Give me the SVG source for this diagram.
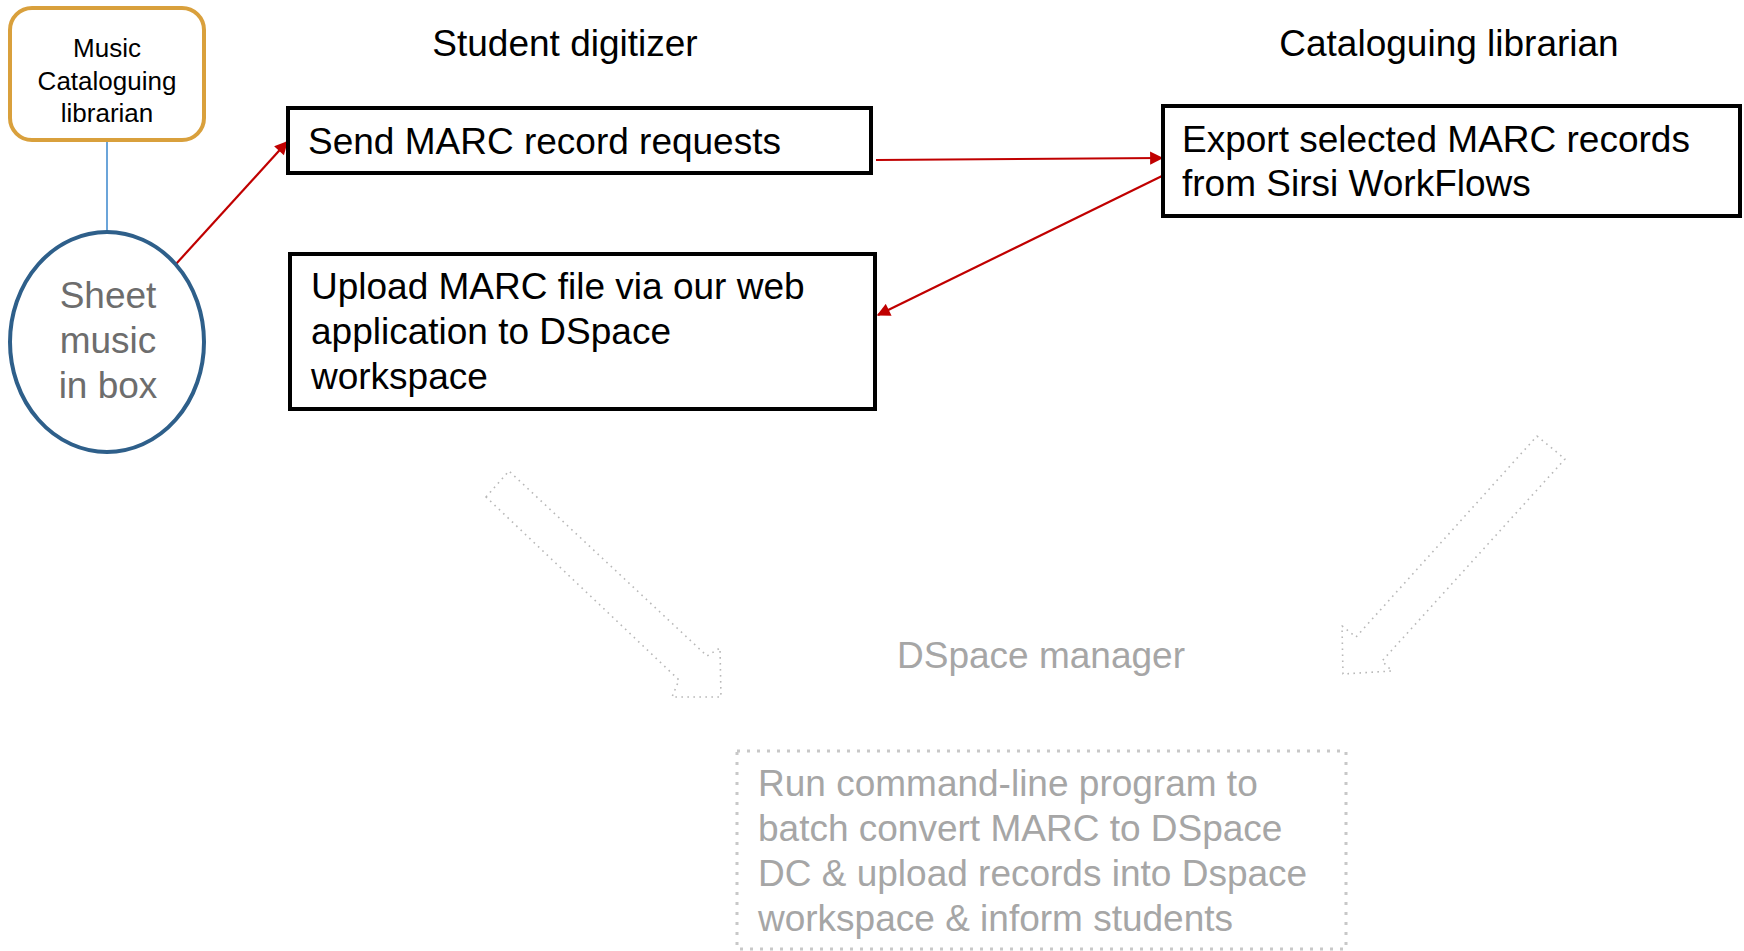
<svg xmlns="http://www.w3.org/2000/svg" width="1744" height="951" viewBox="0 0 1744 951">
<defs>
<marker id="ah" viewBox="0 0 10 10" refX="9" refY="5" markerWidth="6.5" markerHeight="6" orient="auto" markerUnits="strokeWidth">
<path d="M0,0 L10,5 L0,10 Z" fill="#C00000"/>
</marker>
<style>
text{font-family:"Liberation Sans",Arial,sans-serif;}
.box{fill:#fff;stroke:#000;stroke-width:4;}
.t{font-size:37px;fill:#000;}
.head{font-size:37px;fill:#000;text-anchor:middle;}
.red{stroke:#C00000;stroke-width:2.2;fill:none;marker-end:url(#ah);}
.dotarrow{fill:none;stroke:#b8b8b8;stroke-width:1.6;stroke-dasharray:1.6 4.4;stroke-linejoin:round;}
.grey{font-size:37px;fill:#a6a6a6;}
</style>
</defs>
<rect width="1744" height="951" fill="#fff"/>

<g id="headings">
<text class="head" x="565" y="56">Student digitizer</text>
<text class="head" x="1449" y="56">Cataloguing librarian</text>
</g>

<g id="connectors">
<line x1="107" y1="140" x2="107" y2="232" stroke="#5B9BD5" stroke-width="1.8"/>
<line class="red" x1="176" y1="264" x2="287" y2="142"/>
<line class="red" x1="876" y1="160" x2="1162" y2="158"/>
<line class="red" x1="1162" y1="176" x2="878" y2="315"/>
</g>

<g id="music-cataloguing-librarian">
<rect x="10" y="8" width="194" height="132" rx="22" ry="22" fill="#fff" stroke="#D9A03C" stroke-width="4"/>
<text x="107" y="57" font-size="26" text-anchor="middle" fill="#000">Music</text>
<text x="107" y="90" font-size="26" text-anchor="middle" fill="#000">Cataloguing</text>
<text x="107" y="122" font-size="26" text-anchor="middle" fill="#000">librarian</text>
</g>

<g id="sheet-music">
<ellipse cx="107" cy="342" rx="97" ry="110" fill="#fff" stroke="#2E5F8A" stroke-width="4"/>
<text x="108" y="308" font-size="37" text-anchor="middle" fill="#6d6d6d">Sheet</text>
<text x="108" y="353" font-size="37" text-anchor="middle" fill="#6d6d6d">music</text>
<text x="108" y="398" font-size="37" text-anchor="middle" fill="#6d6d6d">in box</text>
</g>

<g id="send-marc">
<rect class="box" x="288" y="108" width="583" height="65"/>
<text class="t" x="308" y="154">Send MARC record requests</text>
</g>

<g id="upload-marc">
<rect class="box" x="290" y="254" width="585" height="155"/>
<text class="t" x="311" y="299">Upload MARC file via our web</text>
<text class="t" x="311" y="344">application to DSpace</text>
<text class="t" x="311" y="389">workspace</text>
</g>

<g id="export-marc">
<rect class="box" x="1163" y="106" width="577" height="110"/>
<text class="t" x="1182" y="152">Export selected MARC records</text>
<text class="t" x="1182" y="196">from Sirsi WorkFlows</text>
</g>

<g id="arrow-left-dotted">
<path class="dotarrow" d="M486,497 L509,471 L707,656 L720,648 L721,697 L672,697 L679,680 Z"/>
</g>

<g id="arrow-right-dotted">
<path class="dotarrow" d="M1537,436 L1565,459 L1382,661 L1392,671 L1343,674 L1342,626 L1356,637 Z"/>
</g>

<g id="dspace-manager">
<text class="grey" x="1041" y="668" text-anchor="middle">DSpace manager</text>
</g>

<g id="run-command">
<rect x="737" y="751" width="609" height="198" fill="none" stroke="#c8c8c8" stroke-width="3" stroke-dasharray="3 7"/>
<text class="grey" x="758" y="796" fill="#a0a0a0">Run command-line program to</text>
<text class="grey" x="758" y="841">batch convert MARC to DSpace</text>
<text class="grey" x="758" y="886">DC &amp; upload records into Dspace</text>
<text class="grey" x="758" y="931">workspace &amp; inform students</text>
</g>
</svg>
